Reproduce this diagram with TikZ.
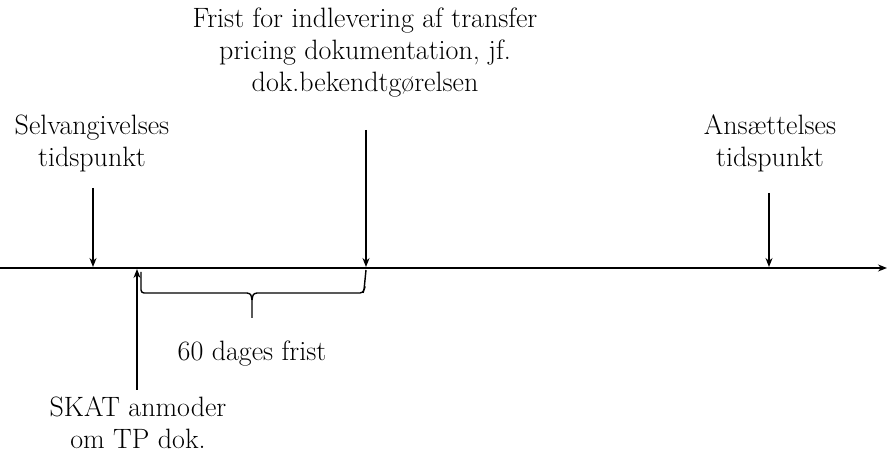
\documentclass[tikz,border=0pt]{standalone}
\usetikzlibrary{arrows.meta}
\begin{document}
\begin{tikzpicture}[x=1pt,y=-1pt,
  lbl/.style={align=center,inner sep=0pt,font=\fontsize{28}{32}\selectfont},
  conn/.style={line width=1.4pt,-{Stealth[length=9pt,width=7pt]}},
  bracepath/.style={line width=1.4pt,rounded corners=3pt}]
\useasboundingbox (0,0) rectangle (887,454);
% labels
\node[lbl] (frist) at (365,53) {Frist for indlevering af transfer\\pricing dokumentation, jf.\\dok.bekendtgørelsen};
\node[lbl] (selv) at (92,143) {Selvangivelses\\tidspunkt};
\node[lbl] (ans) at (770,143) {Ansættelses\\tidspunkt};
\node[lbl] (skat) at (138,423) {SKAT anmoder\\om TP dok.};
\node[lbl] (frist60) at (252,354) {60 dages frist};
% timeline
\coordinate (tl0) at (0,268);
\coordinate (tl1) at (887,268);
\draw[conn] (tl0) -- (tl1);
% arrows
\coordinate (s0) at (93,188); \coordinate (s1) at (93,267);
\coordinate (f0) at (366,130); \coordinate (f1) at (366,267);
\coordinate (a0) at (769,193); \coordinate (a1) at (769,267);
\coordinate (k0) at (137,390); \coordinate (k1) at (137,269);
\draw[conn] (s0) -- (s1);
\draw[conn] (f0) -- (f1);
\draw[conn] (a0) -- (a1);
\draw[conn] (k0) -- (k1);
% brace
\coordinate (b0) at (141,272);
\coordinate (b1) at (366,270);
\coordinate (btip) at (252,318);
\draw[bracepath] (b0) -- (141,293) -- (247,293);
\draw[line width=1.4pt] (247,293) .. controls (251,294) .. (252,300) -- (btip);
\draw[line width=1.4pt] (257,293) .. controls (253,294) .. (252,300);
\draw[bracepath] (257,293) -- (363,293) -- (364,290) -- (b1);
\end{tikzpicture}
\end{document}
